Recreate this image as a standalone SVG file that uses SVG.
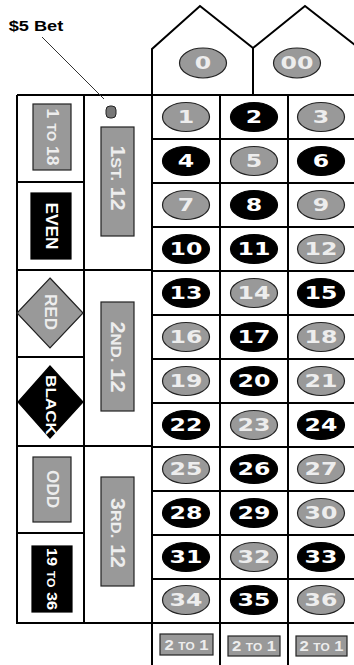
<svg xmlns="http://www.w3.org/2000/svg" width="354" height="665" viewBox="0 0 354 665">
<style>
.ln{stroke:#000;stroke-width:2;fill:none}
.g{fill:#999;stroke:#222;stroke-width:1.2}
.b{fill:#000;stroke:#000;stroke-width:1.2}
.n{font-family:"DejaVu Sans","Liberation Sans",sans-serif;font-weight:bold;font-size:17.5px;text-anchor:middle}
.lt{fill:#ededed}
.wt{fill:#fff}
.lb{font-family:"Liberation Sans",Arial,sans-serif;font-weight:bold;text-anchor:middle}
</style>
<rect width="354" height="665" fill="#fff"/>
<g id="connectors">
<path class="ln" d="M152,95 V49 L200,6 L253,48 L305,6 L360,49 M253,48 V95"/>
<path class="ln" d="M17,95 H354 M17,95 V623 H152 M84,95 V623 M152,95 V665 M220,95 V665 M288,95 V665"/>
<path class="ln" d="M17,182 H84 M17,270 H152 M17,357 H84 M17,446 H152 M17,533 H84"/>
<path class="ln" d="M152,139 H354 M152,183 H354 M152,227 H354 M152,271 H354 M152,315 H354 M152,359 H354 M152,403 H354 M152,447 H354 M152,491 H354 M152,535 H354 M152,579 H354 M152,623 H354"/>
<line x1="42" y1="37" x2="104" y2="99" stroke="#333" stroke-width="1"/>
</g>
<g id="bet-label">
<text class="lb" font-size="14" fill="#000" transform="translate(36,31) scale(1.3,1)">$5 Bet</text>
</g>
<g id="chip"><rect x="106" y="106" width="10" height="12" rx="4" fill="#777" stroke="#222" stroke-width="1"/></g>
<g id="n0" transform="translate(203,63)"><ellipse class="g" rx="23.5" ry="15"/><text class="n lt" y="6.4" transform="scale(1.35,1)">0</text></g>
<g id="n00" transform="translate(297,63)"><ellipse class="g" rx="23.5" ry="15"/><text class="n lt" y="6.4" transform="scale(1.35,1)">00</text></g>
<g id="low"><rect class="g" x="33" y="104" width="38" height="66"/><text class="lb lt" font-size="16" transform="translate(52,137) rotate(90)" y="5.5" textLength="57" lengthAdjust="spacingAndGlyphs">1 <tspan font-size="12">TO</tspan> 18</text></g>
<g id="even"><rect class="b" x="31" y="193" width="40" height="66"/><text class="lb wt" font-size="16" transform="translate(51,226) rotate(90)" y="5.5" textLength="47" lengthAdjust="spacingAndGlyphs">EVEN</text></g>
<g id="red"><path class="g" d="M50,278 L83,313 L50,348 L17,313 Z"/><text class="lb lt" font-size="16" transform="translate(50,312) rotate(90)" y="5.5" textLength="36" lengthAdjust="spacingAndGlyphs">RED</text></g>
<g id="black"><path class="b" d="M50,366 L83,402 L50,438 L18,402 Z"/><text class="lb wt" font-size="15.5" transform="translate(51,405) rotate(90)" y="5.5" textLength="60" lengthAdjust="spacingAndGlyphs">BLACK</text></g>
<g id="odd"><rect class="g" x="33" y="457" width="38" height="65"/><text class="lb lt" font-size="16" transform="translate(52,489) rotate(90)" y="5.5" textLength="38" lengthAdjust="spacingAndGlyphs">ODD</text></g>
<g id="high"><rect class="b" x="32" y="546" width="40" height="66"/><text class="lb wt" font-size="14" transform="translate(52,579) rotate(90)" y="5" textLength="62" lengthAdjust="spacingAndGlyphs">19 <tspan font-size="10.5">TO</tspan> 36</text></g>
<g id="dozen1"><rect class="g" x="101" y="127" width="33" height="109"/><text class="lb lt" font-size="19.5" transform="translate(117.5,178) rotate(90)" y="7" textLength="65" lengthAdjust="spacingAndGlyphs">1<tspan font-size="15">ST.</tspan> 12</text></g>
<g id="dozen2"><rect class="g" x="101" y="302" width="33" height="109"/><text class="lb lt" font-size="19.5" transform="translate(117.5,357) rotate(90)" y="7" textLength="71" lengthAdjust="spacingAndGlyphs">2<tspan font-size="15">ND.</tspan> 12</text></g>
<g id="dozen3"><rect class="g" x="101" y="477" width="33" height="109"/><text class="lb lt" font-size="19.5" transform="translate(117.5,533) rotate(90)" y="7" textLength="70" lengthAdjust="spacingAndGlyphs">3<tspan font-size="15">RD.</tspan> 12</text></g>
<g id="n1" transform="translate(186,117)"><ellipse class="g" rx="23.5" ry="14.5"/><text class="n lt" y="6.4" transform="scale(1.35,1)">1</text></g>
<g id="n2" transform="translate(254,117)"><ellipse class="b" rx="23.5" ry="14.5"/><text class="n wt" y="6.4" transform="scale(1.35,1)">2</text></g>
<g id="n3" transform="translate(321,117)"><ellipse class="g" rx="23.5" ry="14.5"/><text class="n lt" y="6.4" transform="scale(1.35,1)">3</text></g>
<g id="n4" transform="translate(186,161)"><ellipse class="b" rx="23.5" ry="14.5"/><text class="n wt" y="6.4" transform="scale(1.35,1)">4</text></g>
<g id="n5" transform="translate(254,161)"><ellipse class="g" rx="23.5" ry="14.5"/><text class="n lt" y="6.4" transform="scale(1.35,1)">5</text></g>
<g id="n6" transform="translate(321,161)"><ellipse class="b" rx="23.5" ry="14.5"/><text class="n wt" y="6.4" transform="scale(1.35,1)">6</text></g>
<g id="n7" transform="translate(186,205)"><ellipse class="g" rx="23.5" ry="14.5"/><text class="n lt" y="6.4" transform="scale(1.35,1)">7</text></g>
<g id="n8" transform="translate(254,205)"><ellipse class="b" rx="23.5" ry="14.5"/><text class="n wt" y="6.4" transform="scale(1.35,1)">8</text></g>
<g id="n9" transform="translate(321,205)"><ellipse class="g" rx="23.5" ry="14.5"/><text class="n lt" y="6.4" transform="scale(1.35,1)">9</text></g>
<g id="n10" transform="translate(186,249)"><ellipse class="b" rx="23.5" ry="14.5"/><text class="n wt" y="6.4" transform="scale(1.35,1)">10</text></g>
<g id="n11" transform="translate(254,249)"><ellipse class="b" rx="23.5" ry="14.5"/><text class="n wt" y="6.4" transform="scale(1.35,1)">11</text></g>
<g id="n12" transform="translate(321,249)"><ellipse class="g" rx="23.5" ry="14.5"/><text class="n lt" y="6.4" transform="scale(1.35,1)">12</text></g>
<g id="n13" transform="translate(186,293)"><ellipse class="b" rx="23.5" ry="14.5"/><text class="n wt" y="6.4" transform="scale(1.35,1)">13</text></g>
<g id="n14" transform="translate(254,293)"><ellipse class="g" rx="23.5" ry="14.5"/><text class="n lt" y="6.4" transform="scale(1.35,1)">14</text></g>
<g id="n15" transform="translate(321,293)"><ellipse class="b" rx="23.5" ry="14.5"/><text class="n wt" y="6.4" transform="scale(1.35,1)">15</text></g>
<g id="n16" transform="translate(186,337)"><ellipse class="g" rx="23.5" ry="14.5"/><text class="n lt" y="6.4" transform="scale(1.35,1)">16</text></g>
<g id="n17" transform="translate(254,337)"><ellipse class="b" rx="23.5" ry="14.5"/><text class="n wt" y="6.4" transform="scale(1.35,1)">17</text></g>
<g id="n18" transform="translate(321,337)"><ellipse class="g" rx="23.5" ry="14.5"/><text class="n lt" y="6.4" transform="scale(1.35,1)">18</text></g>
<g id="n19" transform="translate(186,381)"><ellipse class="g" rx="23.5" ry="14.5"/><text class="n lt" y="6.4" transform="scale(1.35,1)">19</text></g>
<g id="n20" transform="translate(254,381)"><ellipse class="b" rx="23.5" ry="14.5"/><text class="n wt" y="6.4" transform="scale(1.35,1)">20</text></g>
<g id="n21" transform="translate(321,381)"><ellipse class="g" rx="23.5" ry="14.5"/><text class="n lt" y="6.4" transform="scale(1.35,1)">21</text></g>
<g id="n22" transform="translate(186,425)"><ellipse class="b" rx="23.5" ry="14.5"/><text class="n wt" y="6.4" transform="scale(1.35,1)">22</text></g>
<g id="n23" transform="translate(254,425)"><ellipse class="g" rx="23.5" ry="14.5"/><text class="n lt" y="6.4" transform="scale(1.35,1)">23</text></g>
<g id="n24" transform="translate(321,425)"><ellipse class="b" rx="23.5" ry="14.5"/><text class="n wt" y="6.4" transform="scale(1.35,1)">24</text></g>
<g id="n25" transform="translate(186,469)"><ellipse class="g" rx="23.5" ry="14.5"/><text class="n lt" y="6.4" transform="scale(1.35,1)">25</text></g>
<g id="n26" transform="translate(254,469)"><ellipse class="b" rx="23.5" ry="14.5"/><text class="n wt" y="6.4" transform="scale(1.35,1)">26</text></g>
<g id="n27" transform="translate(321,469)"><ellipse class="g" rx="23.5" ry="14.5"/><text class="n lt" y="6.4" transform="scale(1.35,1)">27</text></g>
<g id="n28" transform="translate(186,513)"><ellipse class="b" rx="23.5" ry="14.5"/><text class="n wt" y="6.4" transform="scale(1.35,1)">28</text></g>
<g id="n29" transform="translate(254,513)"><ellipse class="b" rx="23.5" ry="14.5"/><text class="n wt" y="6.4" transform="scale(1.35,1)">29</text></g>
<g id="n30" transform="translate(321,513)"><ellipse class="g" rx="23.5" ry="14.5"/><text class="n lt" y="6.4" transform="scale(1.35,1)">30</text></g>
<g id="n31" transform="translate(186,557)"><ellipse class="b" rx="23.5" ry="14.5"/><text class="n wt" y="6.4" transform="scale(1.35,1)">31</text></g>
<g id="n32" transform="translate(254,557)"><ellipse class="g" rx="23.5" ry="14.5"/><text class="n lt" y="6.4" transform="scale(1.35,1)">32</text></g>
<g id="n33" transform="translate(321,557)"><ellipse class="b" rx="23.5" ry="14.5"/><text class="n wt" y="6.4" transform="scale(1.35,1)">33</text></g>
<g id="n34" transform="translate(186,600)"><ellipse class="g" rx="23.5" ry="14.5"/><text class="n lt" y="6.4" transform="scale(1.35,1)">34</text></g>
<g id="n35" transform="translate(254,600)"><ellipse class="b" rx="23.5" ry="14.5"/><text class="n wt" y="6.4" transform="scale(1.35,1)">35</text></g>
<g id="n36" transform="translate(321,600)"><ellipse class="g" rx="23.5" ry="14.5"/><text class="n lt" y="6.4" transform="scale(1.35,1)">36</text></g>
<g id="col1"><rect class="g" x="160" y="634" width="53" height="21"/><text class="lb lt" font-size="14" x="186.5" y="650" textLength="44" lengthAdjust="spacingAndGlyphs">2 <tspan font-size="10">TO</tspan> 1</text></g>
<g id="col2"><rect class="g" x="228" y="636" width="52" height="20"/><text class="lb lt" font-size="14" x="254" y="651" textLength="44" lengthAdjust="spacingAndGlyphs">2 <tspan font-size="10">TO</tspan> 1</text></g>
<g id="col3"><rect class="g" x="296" y="636" width="51" height="20"/><text class="lb lt" font-size="14" x="321.5" y="651" textLength="44" lengthAdjust="spacingAndGlyphs">2 <tspan font-size="10">TO</tspan> 1</text></g>
</svg>
